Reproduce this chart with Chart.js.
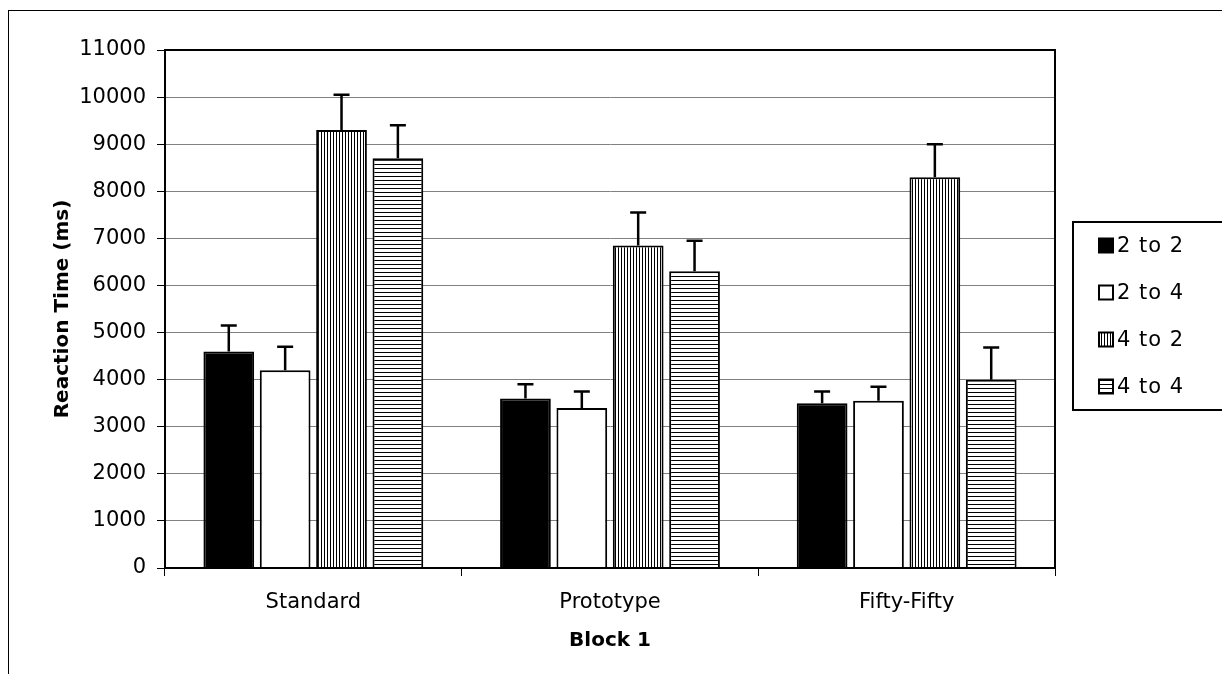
<!DOCTYPE html>
<html>
<head>
<meta charset="utf-8">
<title>Reaction Time - Block 1</title>
<script src="https://cdn.jsdelivr.net/npm/chart.js@4"></script>
<style>
  html, body { margin:0; padding:0; background:#fff; overflow:hidden; }
  canvas { display:block; }
</style>
</head>
<body>
<canvas id="rtChart" width="1222" height="674"></canvas>
<script>
const categories = ['Standard', 'Prototype', 'Fifty-Fifty'];
const seriesNames = ['2 to 2', '2 to 4', '4 to 2', '4 to 4'];

const means22 = [4600, 3600, 3500];
const means24 = [4200, 3400, 3550];
const means42 = [9300, 6850, 8300];
const means44 = [8700, 6300, 4000];

// upper error bar size (ms)
const err22 = [550, 300, 250];
const err24 = [500, 350, 300];
const err42 = [750, 700, 700];
const err44 = [700, 650, 680];

const yMin = 0, yMax = 11000, yStep = 1000;

function stripes(dir){
  const c = document.createElement('canvas');
  const size = dir === 'v' ? 3 : 4;
  c.width = size; c.height = size;
  const g = c.getContext('2d');
  g.fillStyle = '#fff';
  g.fillRect(0,0,size,size);
  g.fillStyle = '#000';
  if(dir === 'v') g.fillRect(0,0,1,size);
  else g.fillRect(0,0,size,1);
  return g.createPattern(c,'repeat');
}

const fills = ['#000000', '#ffffff', stripes('v'), stripes('h')];
const allMeans = [means22, means24, means42, means44];
const allErrs = [err22, err24, err42, err44];

const datasets = seriesNames.map((name,i)=>({
  label: name,
  data: allMeans[i],
  errors: allErrs[i],
  backgroundColor: fills[i],
  borderColor: '#000',
  borderWidth: 2,
  borderSkipped: 'start',
  categoryPercentage: 0.76,
  barPercentage: 0.9
}));

// frame around the whole chart and the plot area
const frames = {
  id: 'frames',
  beforeDraw(chart){
    const c = chart.ctx;
    c.save();
    c.fillStyle = '#fff';
    c.fillRect(0,0,chart.width,chart.height);
    c.strokeStyle = '#000';
    c.lineWidth = 1;
    c.strokeRect(8.5, 10.5, chart.width + 20, chart.height + 20);
    c.restore();
  },
  afterDatasetsDraw(chart){
    const a = chart.chartArea, c = chart.ctx;
    c.save();
    c.strokeStyle = '#000';
    c.lineWidth = 2;
    c.strokeRect(a.left, a.top, a.right - a.left, a.bottom - a.top);
    c.restore();
  }
};

// upward-only error bars
const errorBars = {
  id: 'errorBars',
  afterDatasetsDraw(chart){
    const c = chart.ctx, y = chart.scales.y;
    c.save();
    c.strokeStyle = '#000';
    c.lineWidth = 2.5;
    chart.data.datasets.forEach((ds, di)=>{
      const meta = chart.getDatasetMeta(di);
      meta.data.forEach((bar, j)=>{
        const topPx = y.getPixelForValue(ds.data[j] + ds.errors[j]);
        c.beginPath();
        c.moveTo(bar.x, bar.y);
        c.lineTo(bar.x, topPx);
        c.moveTo(bar.x - 8, topPx);
        c.lineTo(bar.x + 8, topPx);
        c.stroke();
      });
    });
    c.restore();
  }
};

// boxed legend to the right of the plot
const boxLegend = {
  id: 'boxLegend',
  afterDraw(chart){
    const c = chart.ctx, a = chart.chartArea;
    const left = a.right + 18, top = 222, bottom = 410;
    c.save();
    c.strokeStyle = '#000';
    c.lineWidth = 2;
    c.strokeRect(left, top, chart.width, bottom - top);
    c.font = '21px "DejaVu Sans"';
    if ('letterSpacing' in c) c.letterSpacing = '1px';
    c.textBaseline = 'middle';
    c.fillStyle = '#000';
    const rowH = (bottom - top) / seriesNames.length;
    seriesNames.forEach((name,i)=>{
      const cy = top + rowH*(i + 0.5);
      c.fillStyle = fills[i];
      c.fillRect(left + 26, cy - 7, 14, 14);
      c.lineWidth = 2;
      c.strokeRect(left + 26, cy - 7, 14, 14);
      c.fillStyle = '#000';
      c.fillText(name, left + 44, cy + 1);
    });
    c.restore();
  }
};

Chart.defaults.font.family = '"DejaVu Sans", Verdana, sans-serif';
Chart.defaults.font.size = 21;
Chart.defaults.color = '#000';

new Chart(document.getElementById('rtChart').getContext('2d'), {
  type: 'bar',
  data: { labels: categories, datasets },
  options: {
    responsive: false,
    animation: false,
    layout: { padding: { left: 0, top: 50, right: 167, bottom: 0 } },
    plugins: {
      legend: { display: false },
      tooltip: { enabled: false }
    },
    scales: {
      x: {
        afterFit: s => { s.height = 106; },
        grid: { display: true, drawOnChartArea: false, offset: true, color: '#000', tickLength: 8, lineWidth: 1 },
        border: { color: '#000', width: 2 },
        ticks: { padding: 14, color: '#000' },
        title: { display: true, text: 'Block 1', font: { weight: 'bold', size: 20 }, padding: { top: 0, bottom: 21 } }
      },
      y: {
        min: yMin, max: yMax,
        afterFit: s => { s.width = 165; },
        grid: { color: '#808080', lineWidth: 1, tickColor: '#000', tickLength: 8 },
        border: { color: '#000', width: 2 },
        ticks: { stepSize: yStep, padding: 11, color: '#000', callback: v => String(v) },
        title: { display: true, text: 'Reaction Time (ms)', font: { weight: 'bold', size: 20 }, padding: { top: 51, bottom: 0 } }
      }
    }
  },
  plugins: [frames, errorBars, boxLegend]
});
</script>
</body>
</html>
